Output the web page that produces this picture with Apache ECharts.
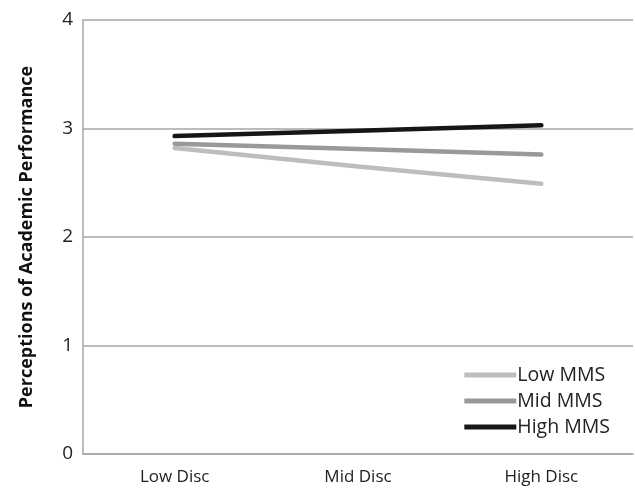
<!DOCTYPE html>
<html><head><meta charset="utf-8">
<script src="https://cdn.jsdelivr.net/npm/echarts@6/dist/echarts.min.js"></script>
<style>html,body{margin:0;padding:0;background:#fff}#c{width:635px;height:490px}</style>
</head><body><div id="c"></div>
<script>
const categories = ['Low Disc', 'Mid Disc', 'High Disc'];
const lowMMS = [2.82, 2.65, 2.49];
const midMMS = [2.86, 2.81, 2.76];
const highMMS = [2.93, 2.98, 3.03];
const yTicks = [0, 1, 2, 3, 4];
const font = 'Open Sans';
const chart = echarts.init(document.getElementById('c'));
const mk = (name, data, color) => ({
  name, type: 'line', data, symbol: 'none', smooth: false,
  lineStyle: { color, width: 4.5, cap: 'round' }, itemStyle: { color }
});
chart.setOption({
  animation: false,
  grid: { left: 83, right: 2, top: 20, bottom: 36 },
  legend: {
    orient: 'vertical', right: 20, bottom: 48,
    itemWidth: 52, itemHeight: 5, itemGap: 6,
    icon: 'rect',
    textStyle: { fontFamily: font, fontSize: 19.5, color: '#222', padding: [0, 0, 0, -4] },
    data: ['Low MMS', 'Mid MMS', 'High MMS']
  },
  xAxis: {
    type: 'category', data: categories, boundaryGap: true,
    axisLine: { lineStyle: { color: '#a6a6a6', width: 1.5 } },
    axisTick: { show: false },
    axisLabel: { fontFamily: font, fontSize: 17, color: '#222', margin: 15 }
  },
  yAxis: {
    type: 'value', min: yTicks[0], max: yTicks[yTicks.length - 1], interval: 1,
    name: 'Perceptions of Academic Performance', nameLocation: 'middle', nameGap: 47,
    nameTextStyle: { fontFamily: font, fontSize: 18, fontWeight: 'bold', color: '#111' },
    axisLine: { show: true, lineStyle: { color: '#a6a6a6', width: 1.5 } },
    axisTick: { show: false },
    splitLine: { lineStyle: { color: '#a6a6a6', width: 1.5 } },
    axisLabel: { fontFamily: font, fontSize: 19, color: '#222', margin: 10 }
  },
  series: [
    mk('Low MMS', lowMMS, '#bdbdbd'),
    mk('Mid MMS', midMMS, '#999999'),
    mk('High MMS', highMMS, '#161616')
  ]
});
</script></body></html>
